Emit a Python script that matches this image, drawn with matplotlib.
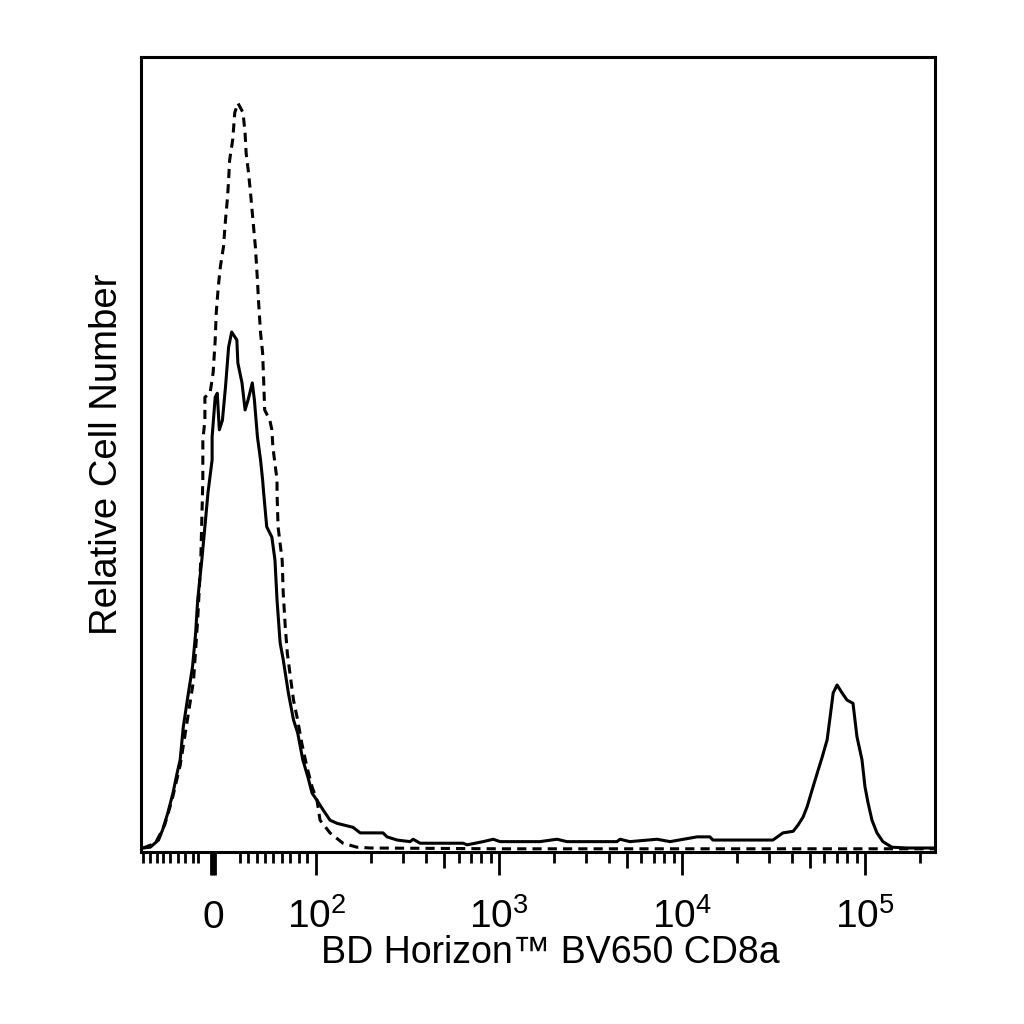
import matplotlib.pyplot as plt
import numpy as np

plt.rcParams['font.family'] = ['Liberation Sans', 'DejaVu Sans']
plt.rcParams['mathtext.fontset'] = 'custom'
plt.rcParams['mathtext.rm'] = 'Liberation Sans'
plt.rcParams['mathtext.it'] = 'Liberation Sans:italic'

# CD8a stained sample (solid) - fluorescence vs relative count (% of max)
stained_x = [-68, -61, -53, -49, -44, -39, -35, -32, -29, -24, -20, -17, -15, -11, -8, -5,
             -1, -1, 2, 4, 6, 9, 12, 15, 18, 23, 24, 28, 31, 34, 38, 40, 43, 46, 48, 49,
             52, 57, 60, 62, 65, 68, 73, 78, 82, 87, 92, 96, 101, 109, 119, 130, 159, 174,
             232, 244, 277, 326, 339, 370, 636, 669, 818, 928, 1013, 1670, 2070, 2350,
             4410, 4580, 5190, 7300, 8600, 12080, 14200, 14750, 31400, 35600, 40500,
             43100, 45900, 48300, 51400, 54800, 58300, 62100, 64500, 67000, 70400, 75000,
             79800, 86000, 90400, 96300, 100000, 103900, 109200, 116300, 125300, 140200,
             169300, 241000]
stained_y = [0.5, 0.6, 1.5, 2.8, 4.9, 7.4, 9.9, 11.6, 15.7, 20.0, 23.3, 27.5, 31.7, 36.7, 40.9, 45.2,
             49.3, 52.2, 57.2, 57.7, 53.1, 54.3, 58.5, 63.5, 65.4, 64.4, 61.5, 59.0, 55.6, 56.9, 59.0, 56.9, 52.2, 49.3, 46.8, 45.2,
             40.9, 39.6, 36.7, 31.7, 26.3, 24.2, 20.0, 16.6, 15.0, 11.6, 9.4, 7.4, 6.5, 5.3, 4.0, 3.6, 3.1, 2.4,
             2.4, 1.9, 1.5, 1.3, 1.6, 1.1, 1.1, 0.9, 1.3, 1.6, 1.3, 1.3, 1.6, 1.3,
             1.3, 1.6, 1.3, 1.6, 1.3, 1.9, 1.9, 1.5, 1.5, 2.4, 2.6,
             3.4, 4.4, 5.7, 7.8, 9.9, 11.9, 14.1, 17.0, 20.0, 21.0, 20.0,
             19.1, 18.7, 14.5, 11.6, 8.2, 6.2, 4.0, 2.4, 1.3, 0.6,
             0.5, 0.5]

# isotype control (dashed)
control_x = [-68, -56, -47, -40, -32, -25, -19, -15, -12, -10, -10, -8, -8, -3, 0, 2, 3, 5, 7,
             10, 12, 14, 15, 16, 19, 21, 24, 29, 31, 32, 34, 36, 38, 41, 43, 44, 46, 48, 49,
             50, 55, 57, 58, 62, 62, 63, 67, 68, 70, 72, 75, 78, 82, 86, 91, 96, 101, 105,
             119, 140, 167, 197, 1000, 241000]
control_y = [0.5, 1.1, 3.4, 6.5, 10.9, 16.6, 21.6, 29.2, 36.7, 46.8, 51.8, 54.3, 57.2, 57.7, 60.3, 64.4, 67.8, 71.1, 73.6,
             76.1, 79.5, 82.4, 84.5, 87.0, 89.6, 93.0, 94.2, 93.0, 90.4, 87.9, 85.8, 83.3, 80.4, 76.1, 71.9, 69.4, 65.3, 62.8, 59.4,
             55.6, 54.3, 53.1, 50.9, 46.8, 45.2, 40.9, 36.7, 32.6, 28.3, 25.0, 22.0, 19.1, 16.6, 13.7, 10.7, 8.2, 6.5, 4.0,
             2.4, 1.1, 0.6, 0.5, 0.4, 0.4]

major_ticks = [-2, 0, 2, 100, 500, 1000, 5000, 10000, 50000, 100000]
major_labels = ['', '0', '', r'$\mathregular{10^2}$', '', r'$\mathregular{10^3}$', '',
                r'$\mathregular{10^4}$', '', r'$\mathregular{10^5}$']
minor_ticks = [-68, -61, -54, -49, -42, -34, -27, -20, -15, 26, 34, 43, 50, 58, 67, 75, 83, 91]
for dec in [100, 1000, 10000]:
    for k in [2, 3, 4, 6, 7, 8, 9]:
        minor_ticks.append(k * dec)
minor_ticks.append(200000)

fig = plt.figure(figsize=(10.24, 10.24), dpi=100)
ax = fig.add_axes([0.1377, 0.168, 0.7754, 0.7764])

ax.plot(stained_x, stained_y, color='black', lw=2.2)
ax.plot(control_x, control_y, color='black', lw=2.2, linestyle=(0, (3.0, 2.0)))

ax.set_xscale('symlog', linthresh=100, linscale=0.507, base=10)
ax.set_xlim(-70, 241500)
ax.set_ylim(0, 100)

for s in ax.spines.values():
    s.set_linewidth(2.2)

ax.set_xticks(major_ticks, labels=major_labels)
ax.set_xticks(minor_ticks, minor=True)
ax.tick_params(axis='x', which='major', direction='out', length=16.5, width=2,
               pad=38, labelsize=28, top=False)
ax.tick_params(axis='x', which='minor', direction='out', length=8, width=2, top=False)
ax.tick_params(axis='y', which='both', left=False, right=False, labelleft=False)

for t, v in zip(ax.xaxis.get_major_ticks(), major_ticks):
    if v in (500, 5000, 50000):
        t.tick1line.set_markersize(11.5)
for lbl in ax.get_xticklabels():
    lbl.set_verticalalignment('baseline')

ax.set_xlabel('BD Horizon™ BV650 CD8a', fontsize=27)
ax.xaxis.set_label_coords(0.515, -0.104)
ax.set_ylabel('Relative Cell Number', fontsize=27.5)
ax.yaxis.set_label_coords(-0.02, 0.5)

fig.savefig('out.png', dpi=100)
